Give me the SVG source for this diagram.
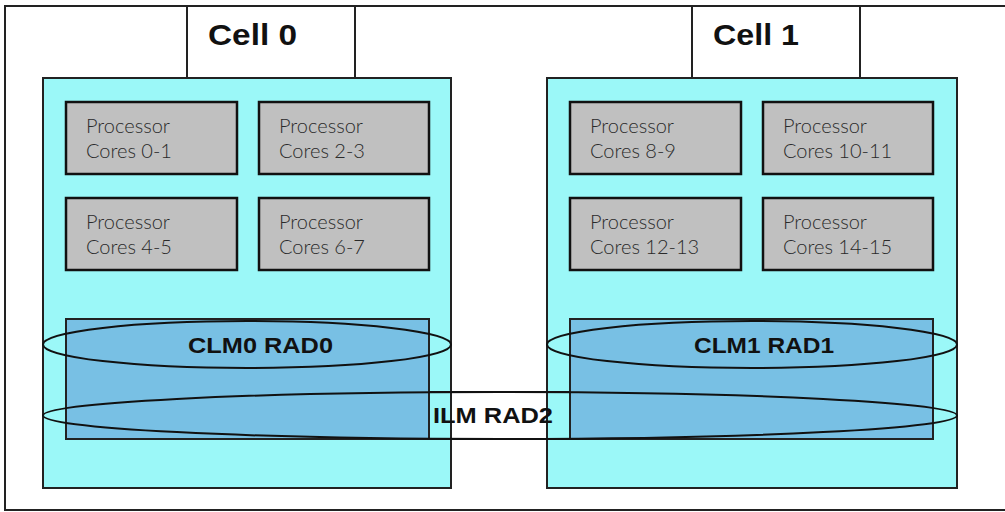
<svg xmlns="http://www.w3.org/2000/svg" width="1005" height="512" viewBox="0 0 1005 512">
<style>
.frame{fill:#fff;stroke:#222;stroke-width:2}
.cell{fill:#9bf8f8;stroke:#222;stroke-width:2}
.proc{fill:#c0c0c0;stroke:#111;stroke-width:2.5}
.mem{fill:#78c0e4;stroke:#222;stroke-width:2}
.ell{fill:none;stroke:#111;stroke-width:2}
.ptxt{font-family:"Lato","Liberation Sans",sans-serif;font-weight:300;font-size:20px;fill:#2a2a2a}
.btxt{font-family:"Liberation Sans",sans-serif;font-weight:bold;fill:#111}
</style>
<rect class="frame" x="5" y="6" width="1010" height="504"/>
<g id="cell0">
<rect class="frame" x="187" y="6" width="168" height="72"/>
<text class="btxt" x="208" y="45" font-size="30" textLength="89" lengthAdjust="spacingAndGlyphs">Cell 0</text>
<rect class="cell" x="43" y="78" width="408" height="410"/>
</g>
<g id="cell1">
<rect class="frame" x="692" y="6" width="168" height="72"/>
<text class="btxt" x="713" y="45" font-size="30" textLength="86" lengthAdjust="spacingAndGlyphs">Cell 1</text>
<rect class="cell" x="547" y="78" width="410" height="410"/>
</g>
<g id="p01"><rect class="proc" x="66" y="102" width="171" height="72"/><text class="ptxt" x="86" y="133">Processor</text><text class="ptxt" x="86" y="158">Cores 0-1</text></g>
<g id="p23"><rect class="proc" x="259" y="102" width="170" height="72"/><text class="ptxt" x="279" y="133">Processor</text><text class="ptxt" x="279" y="158">Cores 2-3</text></g>
<g id="p45"><rect class="proc" x="66" y="198" width="171" height="72"/><text class="ptxt" x="86" y="229">Processor</text><text class="ptxt" x="86" y="254">Cores 4-5</text></g>
<g id="p67"><rect class="proc" x="259" y="198" width="170" height="72"/><text class="ptxt" x="279" y="229">Processor</text><text class="ptxt" x="279" y="254">Cores 6-7</text></g>
<g id="p89"><rect class="proc" x="570" y="102" width="171" height="72"/><text class="ptxt" x="590" y="133">Processor</text><text class="ptxt" x="590" y="158">Cores 8-9</text></g>
<g id="p1011"><rect class="proc" x="763" y="102" width="170" height="72"/><text class="ptxt" x="783" y="133">Processor</text><text class="ptxt" x="783" y="158">Cores 10-11</text></g>
<g id="p1213"><rect class="proc" x="570" y="198" width="171" height="72"/><text class="ptxt" x="590" y="229">Processor</text><text class="ptxt" x="590" y="254">Cores 12-13</text></g>
<g id="p1415"><rect class="proc" x="763" y="198" width="170" height="72"/><text class="ptxt" x="783" y="229">Processor</text><text class="ptxt" x="783" y="254">Cores 14-15</text></g>
<g id="mem0"><rect class="mem" x="66" y="319" width="363" height="120"/></g>
<g id="mem1"><rect class="mem" x="570" y="319" width="363" height="120"/></g>
<g id="ilmbox"><rect fill="none" stroke="#222" stroke-width="2" x="429" y="392" width="141" height="47"/></g>
<g id="clm0"><ellipse class="ell" cx="247" cy="344.5" rx="204" ry="23.5"/><text class="btxt" x="188" y="353" font-size="22" textLength="145" lengthAdjust="spacingAndGlyphs">CLM0 RAD0</text></g>
<g id="clm1"><ellipse class="ell" cx="752" cy="344.5" rx="205" ry="23.5"/><text class="btxt" x="694" y="353" font-size="22" textLength="140" lengthAdjust="spacingAndGlyphs">CLM1 RAD1</text></g>
<g id="ilm"><ellipse class="ell" cx="500" cy="415.5" rx="457" ry="23.5"/><text class="btxt" x="433" y="423" font-size="22" textLength="120" lengthAdjust="spacingAndGlyphs">ILM RAD2</text></g>
</svg>
